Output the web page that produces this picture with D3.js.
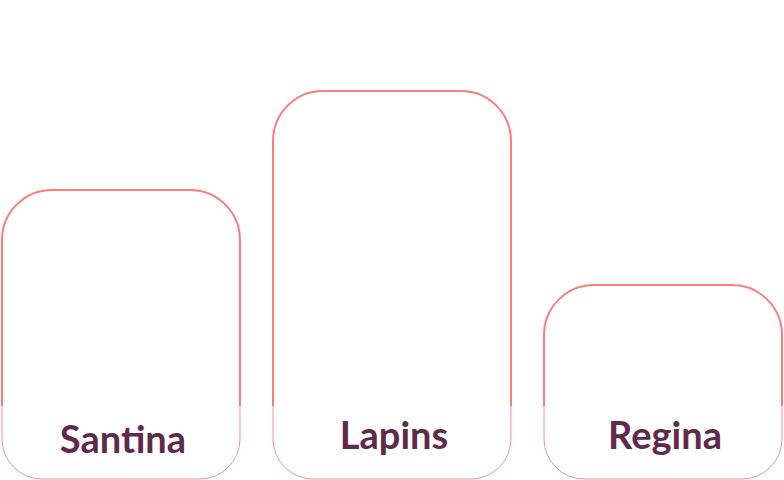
<!DOCTYPE html>
<html>
<head>
<meta charset="utf-8">
<script src="https://cdn.jsdelivr.net/npm/d3@7"></script>
<style>
  html, body { margin: 0; padding: 0; background: #ffffff; }
  svg { display: block; }
</style>
</head>
<body>
<svg id="chart" width="784" height="480"></svg>
<script>
const categories = ["Santina", "Lapins", "Regina"];
const values = [29.8, 40, 20];

const W = 784, H = 480;
const svg = d3.select("#chart");

const x = d3.scaleBand().domain(categories).range([2, 782]).paddingInner(0.122).paddingOuter(0);
const y = d3.scaleLinear().domain([0, 40]).range([479, 91]);

const splitY = 406;
const rTop = 50, rBot = 40;
const strokeCol = "#ff7b7b";
const fontSize = 38;

const data = categories.map((c, i) => ({ cat: c, val: values[i] }));

function topPath(d) {
  const x0 = x(d.cat), x1 = x0 + x.bandwidth(), t = y(d.val);
  const r = Math.min(rTop, (x1 - x0) / 2, splitY - t);
  return `M${x0},${splitY} L${x0},${t + r} A${r},${r} 0 0 1 ${x0 + r},${t} L${x1 - r},${t} A${r},${r} 0 0 1 ${x1},${t + r} L${x1},${splitY}`;
}
function bottomPath(d) {
  const x0 = x(d.cat), x1 = x0 + x.bandwidth(), b = y(0);
  const r = rBot;
  return `M${x0},${splitY} L${x0},${b - r} A${r},${r} 0 0 0 ${x0 + r},${b} L${x1 - r},${b} A${r},${r} 0 0 0 ${x1},${b - r} L${x1},${splitY}`;
}

const g = svg.append("g");

g.selectAll("path.top").data(data).join("path")
  .attr("class", "top")
  .attr("d", topPath)
  .attr("fill", "none")
  .attr("stroke", strokeCol)
  .attr("stroke-width", 2);

g.selectAll("path.bottom").data(data).join("path")
  .attr("class", "bottom")
  .attr("d", bottomPath)
  .attr("fill", "none")
  .attr("stroke", strokeCol)
  .attr("stroke-opacity", 0.85)
  .attr("stroke-width", 1);

// labels centred on their visible box (cap top to baseline / descender)
const targetCenter = 439;
g.selectAll("text.label").data(data).join("text")
  .attr("class", "label")
  .attr("x", d => x(d.cat) + x.bandwidth() / 2 + 2)
  .attr("y", d => {
    const hasDesc = /[gjpqy]/.test(d.cat);
    const top = -0.72 * fontSize;
    const bottom = hasDesc ? 0.2 * fontSize : 0;
    return targetCenter - (top + bottom) / 2;
  })
  .attr("text-anchor", "middle")
  .attr("font-family", "Lato, sans-serif")
  .attr("font-weight", 700)
  .attr("font-size", fontSize)
  .attr("fill", "#5f2a4c")
  .text(d => d.cat);
</script>
</body>
</html>
